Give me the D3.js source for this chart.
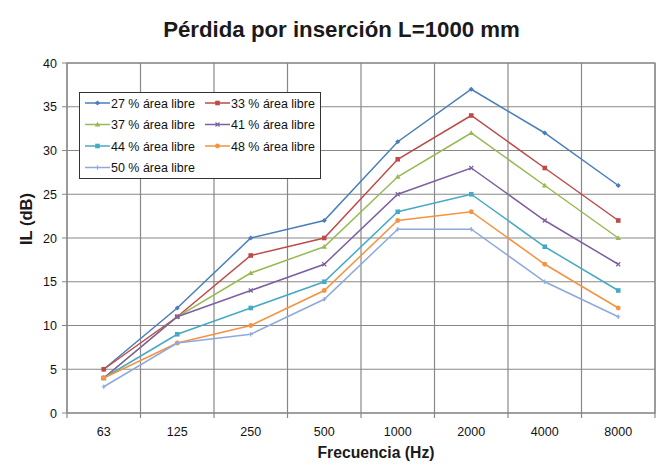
<!DOCTYPE html>
<html><head><meta charset="utf-8">
<script src="https://cdn.jsdelivr.net/npm/d3@7"></script>
<style>body{margin:0;background:#fff}svg{display:block;font-family:"Liberation Sans",Arial,sans-serif}</style>
</head><body><svg id="c" width="661" height="464"></svg>
<script>
const categories = ["63","125","250","500","1000","2000","4000","8000"];
const seriesNames = ["27 % área libre","33 % área libre","37 % área libre","41 % área libre","44 % área libre","48 % área libre","50 % área libre"];
const s27 = [5,12,20,22,31,37,32,26];
const s33 = [5,11,18,20,29,34,28,22];
const s37 = [4,11,16,19,27,32,26,20];
const s41 = [4,11,14,17,25,28,22,17];
const s44 = [4,9,12,15,23,25,19,14];
const s48 = [4,8,10,14,22,23,17,12];
const s50 = [3,8,9,13,21,21,15,11];
const yTicks = [0,5,10,15,20,25,30,35,40];
const colors = ["#4A7EBB","#BE4B48","#98B954","#7D60A0","#46AAC5","#F69240","#8EAADB"];
const markers = ["diamond","square","triangle","x","square","circle","plus"];
const seriesData = [s27,s33,s37,s41,s44,s48,s50];

const svg = d3.select("#c");
const L=67,R=655,T=63,B=413;
const x = d3.scaleBand().domain(categories).range([L,R]);
const y = d3.scaleLinear().domain([0,40]).range([B,T]);
const grid = "#888888";

function fit(sel, w){
  const n = sel.node(); const cur = n.getComputedTextLength();
  const fs = parseFloat(sel.attr("font-size"));
  sel.attr("font-size", fs*w/cur);
}

svg.append("g").selectAll("line").data(yTicks).join("line")
  .attr("x1",L-5).attr("x2",R).attr("y1",d=>y(d)).attr("y2",d=>y(d))
  .attr("stroke",grid).attr("stroke-width",1.2);
const bounds = categories.map(c=>x(c)).concat([R]);
svg.append("g").selectAll("line").data(bounds).join("line")
  .attr("x1",d=>d).attr("x2",d=>d).attr("y1",T).attr("y2",B+5)
  .attr("stroke",grid).attr("stroke-width",1.2);
svg.append("rect").attr("x",L).attr("y",T).attr("width",R-L).attr("height",B-T)
  .attr("fill","none").attr("stroke",grid).attr("stroke-width",1.2);

svg.append("g").selectAll("text").data(yTicks).join("text")
  .attr("x",L-10).attr("y",d=>y(d)+4.5).attr("text-anchor","end")
  .attr("font-size",12.5).attr("fill","#111").text(d=>d);
svg.append("g").selectAll("text").data(categories).join("text")
  .attr("x",d=>x(d)+x.bandwidth()/2).attr("y",B+23).attr("text-anchor","middle")
  .attr("font-size",12.5).attr("fill","#111").text(d=>d);

fit(svg.append("text").attr("x",341.5).attr("y",37).attr("text-anchor","middle").attr("fill","#1a1a1a")
  .attr("font-size",20).attr("font-weight","bold").text("Pérdida por inserción L=1000 mm"),357);
fit(svg.append("text").attr("x",376).attr("y",458).attr("text-anchor","middle").attr("fill","#1a1a1a")
  .attr("font-size",15).attr("font-weight","bold").text("Frecuencia (Hz)"),117);
fit(svg.append("text").attr("transform","translate(32,219) rotate(-90)").attr("text-anchor","middle").attr("fill","#1a1a1a")
  .attr("font-size",15).attr("font-weight","bold").text("IL (dB)"),52);

function marker(g,type,cx,cy,color){
  const s=2.6;
  if(type==="diamond") g.append("path").attr("d",`M${cx},${cy-s}L${cx+s},${cy}L${cx},${cy+s}L${cx-s},${cy}Z`).attr("fill",color);
  else if(type==="square") g.append("rect").attr("x",cx-2.3).attr("y",cy-2.3).attr("width",4.6).attr("height",4.6).attr("fill",color);
  else if(type==="triangle") g.append("path").attr("d",`M${cx},${cy-2.8}L${cx+2.8},${cy+2}L${cx-2.8},${cy+2}Z`).attr("fill",color);
  else if(type==="circle") g.append("circle").attr("cx",cx).attr("cy",cy).attr("r",2.4).attr("fill",color);
  else if(type==="x") g.append("path").attr("d",`M${cx-2},${cy-2}L${cx+2},${cy+2}M${cx-2},${cy+2}L${cx+2},${cy-2}`).attr("stroke",color).attr("stroke-width",1.2);
  else if(type==="plus") g.append("path").attr("d",`M${cx-2.2},${cy}L${cx+2.2},${cy}M${cx},${cy-2.2}L${cx},${cy+2.2}`).attr("stroke",color).attr("stroke-width",1.2);
}

const line = d3.line().x((d,i)=>x(categories[i])+x.bandwidth()/2).y(d=>y(d));
seriesData.forEach((data,k)=>{
  const g = svg.append("g");
  g.append("path").attr("d",line(data)).attr("fill","none").attr("stroke",colors[k]).attr("stroke-width",1.5);
  data.forEach((v,i)=>marker(g,markers[k],x(categories[i])+x.bandwidth()/2,y(v),colors[k]));
});

const lg = svg.append("g");
lg.append("rect").attr("x",79.5).attr("y",92.5).attr("width",241).attr("height",86)
  .attr("fill","#fff").attr("stroke","#333").attr("stroke-width",1);
seriesNames.forEach((n,k)=>{
  const col=k%2, row=Math.floor(k/2);
  const lx = col===0?85:205, ly = 103+row*21.5;
  lg.append("line").attr("x1",lx).attr("x2",lx+25).attr("y1",ly).attr("y2",ly).attr("stroke",colors[k]).attr("stroke-width",1.5);
  marker(lg,markers[k],lx+12.5,ly,colors[k]);
  fit(lg.append("text").attr("x",lx+26).attr("y",ly+4.5).attr("font-size",12.5).attr("fill","#111").text(n),84);
});
</script></body></html>
